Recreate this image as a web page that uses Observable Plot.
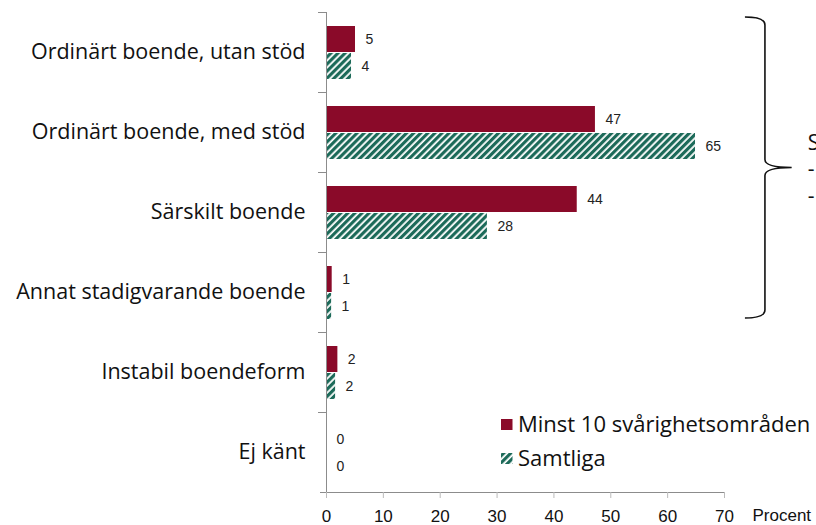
<!DOCTYPE html>
<html><head><meta charset="utf-8">
<script src="https://cdn.jsdelivr.net/npm/d3@7"></script>
<script src="https://cdn.jsdelivr.net/npm/@observablehq/plot@0.6"></script>
<style>body{margin:0;background:#fff}#chart svg{display:block}</style>
</head><body><div id="chart"></div>
<script>
const categories = ["Ordinärt boende, utan stöd", "Ordinärt boende, med stöd", "Särskilt boende", "Annat stadigvarande boende", "Instabil boendeform", "Ej känt"];
const series = ["Minst 10 svårighetsområden", "Samtliga"];
const minst10 = [5.1, 47.3, 44.1, 1.0, 2.0, 0];
const samtliga = [4.4, 64.9, 28.3, 0.9, 1.6, 0];
const xTicks = [0, 10, 20, 30, 40, 50, 60, 70];
const xLabel = "Procent";
const braceText = ["S", "-", "-"];
const colors = ["#8a0a29", "url(#hatch)"];

const red = categories.map((c, i) => ({cat: c, series: series[0], v: minst10[i]}));
const green = categories.map((c, i) => ({cat: c, series: series[1], v: samtliga[i]}));

const catFont = "'Open Sans', sans-serif";
const fig = Plot.plot({
  width: 816, height: 525,
  marginLeft: 326, marginRight: 92, marginTop: 12, marginBottom: 33,
  style: {fontFamily: "'Liberation Sans', Arial, sans-serif", background: "white", color: "#111", overflow: "visible"},
  x: {domain: [0, 70], ticks: xTicks, label: null},
  y: {domain: categories, padding: 0, label: null},
  marks: [
    Plot.barX(red, {x: "v", y: "cat", fill: colors[0], insetTop: 14, insetBottom: 40}),
    Plot.barX(green, {x: "v", y: "cat", fill: colors[1], insetTop: 41, insetBottom: 13}),
    Plot.text(red, {x: "v", y: "cat", text: d => Math.round(d.v), dx: 10, dy: -13, textAnchor: "start", fontSize: 14, fill: "#222"}),
    Plot.text(green, {x: "v", y: "cat", text: d => Math.round(d.v), dx: 10, dy: 14, textAnchor: "start", fontSize: 14, fill: "#222"}),
    Plot.frame({anchor: "left", stroke: "#8c8c8c"}),
    Plot.frame({anchor: "bottom", stroke: "#8c8c8c", insetLeft: -6}),
    Plot.axisY({tickSize: 0, tickPadding: 21, fontSize: 21.5, fontFamily: catFont, fill: "#111", label: null}),
    Plot.axisY({tickSize: 8, tickFormat: () => "", dy: -40, stroke: "#8c8c8c", label: null}),
    Plot.axisX({ticks: xTicks, tickSize: 6, tickPadding: 11, fontSize: 17, stroke: "#bbb", fill: "#111", label: null}),
    Plot.text([xLabel], {frameAnchor: "bottom-right", dx: 28, dy: 23, textAnchor: "start", lineAnchor: "middle", fontSize: 17, fill: "#111"})
  ]
});

const svg = d3.select(fig);
const defs = svg.insert("defs", ":first-child");
const pat = defs.append("pattern").attr("id", "hatch").attr("patternUnits", "userSpaceOnUse")
  .attr("width", 5).attr("height", 5).attr("patternTransform", "rotate(45)");
pat.append("rect").attr("width", 5).attr("height", 5).attr("fill", "white");
pat.append("rect").attr("width", 3.2).attr("height", 5).attr("fill", "#1c6a59");

const xs = fig.scale("x"), ys = fig.scale("y");
// brace
const bx = xs.apply(77.2);
const bTop = ys.apply(categories[0]) + 5;
const bBot = ys.apply(categories[3]) + ys.bandwidth - 14;
const bMid = (bTop + bBot) / 2;
const tipX = xs.apply(81.9);
svg.append("path")
  .attr("d", `M${bx - 20},${bTop} Q${bx},${bTop} ${bx},${bTop + 8} L${bx},${bMid - 8} Q${bx},${bMid} ${tipX},${bMid} Q${bx},${bMid} ${bx},${bMid + 8} L${bx},${bBot - 8} Q${bx},${bBot} ${bx - 20},${bBot}`)
  .attr("fill", "none").attr("stroke", "#111").attr("stroke-width", 1.6);
braceText.forEach((t, i) => {
  svg.append("text").attr("x", tipX + 16).attr("y", bMid - 25 + i * 26.5).attr("dy", "0.35em")
    .attr("text-anchor", "start")
    .attr("font-family", catFont).attr("font-size", 21).attr("fill", "#111").text(t);
});
// legend
const lg = svg.append("g");
series.forEach((s, i) => {
  const y0 = 424.5 + i * 34;
  lg.append("rect").attr("x", 501).attr("y", y0 - 5.5).attr("width", 11.5).attr("height", 11).attr("fill", colors[i]);
  lg.append("text").attr("x", 518).attr("y", y0).attr("dy", "0.35em").attr("text-anchor", "start")
    .attr("font-family", catFont).attr("font-size", 22).attr("fill", "#111").text(s);
});
document.getElementById("chart").append(fig);
</script>
</body></html>
